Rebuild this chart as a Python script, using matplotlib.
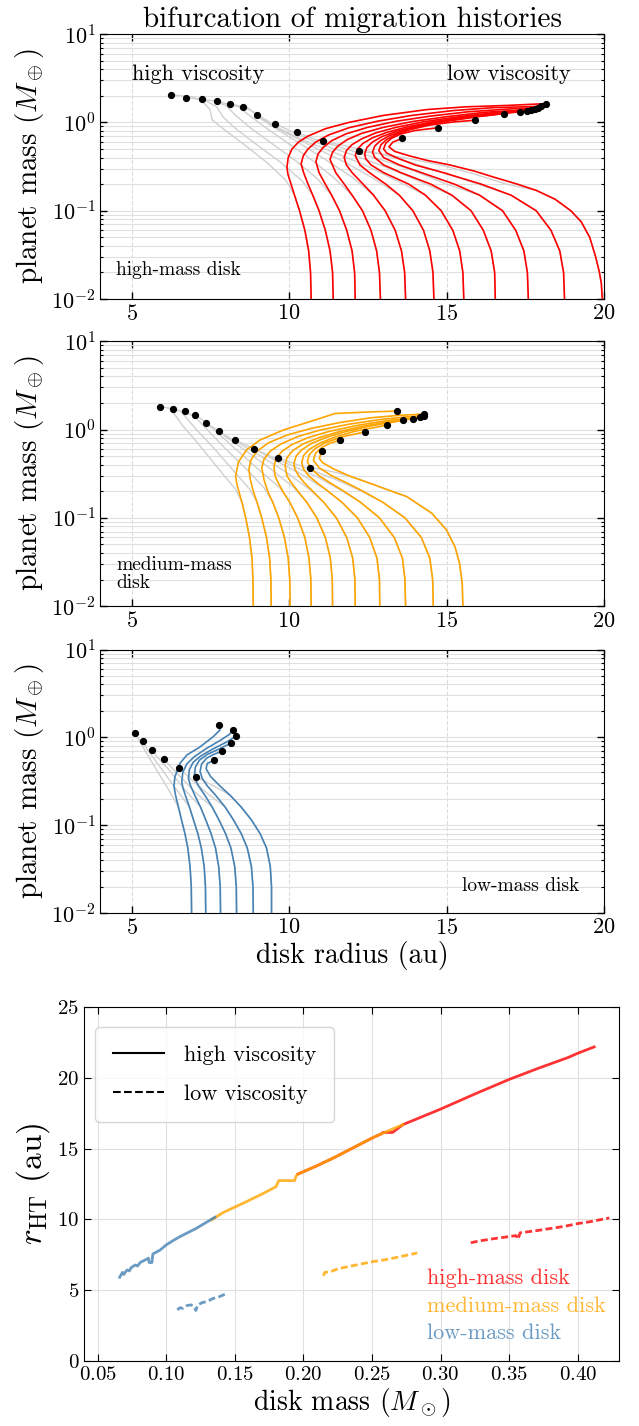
import numpy as np
import matplotlib.pyplot as plt

plt.rcParams['font.family'] = 'serif'
plt.rcParams['font.serif'] = ['cmr10']
plt.rcParams['mathtext.fontset'] = 'cm'
plt.rcParams['axes.formatter.use_mathtext'] = True
plt.rcParams['axes.unicode_minus'] = False

# ---- migration tracks: (disk radius [au], planet mass [M_earth]) ----
# low-viscosity tracks (coloured), innermost start first
high_tracks = [
    [(10.7,0.01),(10.68,0.02),(10.62,0.035),(10.5,0.06),(10.33,0.1),(10.17,0.15),(10.06,0.2),(9.96,0.26),(9.93,0.31),(9.97,0.4),(10.09,0.5),(10.3,0.6),(10.6,0.7),(11.16,0.85),(11.9,1.0),(13.0,1.2),(14.4,1.4),(15.6,1.5),(17.0,1.56),(18.15,1.63)],
    [(11.4,0.01),(11.38,0.02),(11.3,0.035),(11.15,0.06),(10.95,0.1),(10.75,0.15),(10.6,0.2),(10.46,0.27),(10.38,0.34),(10.45,0.42),(10.6,0.5),(10.85,0.6),(11.25,0.72),(11.9,0.87),(12.8,1.03),(13.9,1.2),(15.2,1.36),(16.5,1.47),(18.0,1.52)],
    [(12.1,0.01),(12.08,0.02),(12.0,0.035),(11.83,0.06),(11.6,0.1),(11.35,0.15),(11.15,0.2),(10.95,0.27),(10.85,0.36),(10.92,0.44),(11.08,0.52),(11.35,0.62),(11.8,0.74),(12.5,0.88),(13.4,1.03),(14.5,1.18),(15.7,1.32),(17.0,1.42),(17.9,1.47)],
    [(12.9,0.01),(12.87,0.02),(12.78,0.035),(12.6,0.06),(12.33,0.1),(12.0,0.15),(11.75,0.2),(11.48,0.27),(11.3,0.38),(11.38,0.46),(11.55,0.54),(11.85,0.64),(12.3,0.75),(13.0,0.88),(13.9,1.02),(15.0,1.16),(16.2,1.3),(17.8,1.41)],
    [(13.7,0.01),(13.67,0.02),(13.57,0.035),(13.37,0.06),(13.05,0.1),(12.68,0.15),(12.35,0.2),(12.0,0.27),(11.82,0.33),(11.75,0.4),(11.82,0.48),(12.0,0.56),(12.3,0.65),(12.75,0.76),(13.4,0.88),(14.3,1.02),(15.4,1.16),(16.6,1.3),(17.7,1.37)],
    [(14.6,0.01),(14.57,0.02),(14.47,0.035),(14.27,0.06),(13.93,0.1),(13.5,0.15),(13.07,0.2),(12.55,0.27),(12.25,0.33),(12.1,0.42),(12.17,0.5),(12.35,0.58),(12.65,0.67),(13.1,0.77),(13.75,0.89),(14.6,1.02),(15.6,1.15),(16.7,1.28),(17.57,1.35)],
    [(15.55,0.01),(15.52,0.02),(15.42,0.035),(15.2,0.06),(14.83,0.1),(14.33,0.15),(13.8,0.2),(13.0,0.27),(12.6,0.33),(12.43,0.39),(12.4,0.44),(12.47,0.52),(12.65,0.6),(12.95,0.69),(13.4,0.79),(14.0,0.9),(14.8,1.02),(15.8,1.15),(17.33,1.32)],
    [(16.55,0.01),(16.53,0.02),(16.42,0.035),(16.17,0.06),(15.78,0.1),(15.17,0.15),(14.5,0.2),(13.55,0.27),(13.0,0.33),(12.72,0.4),(12.65,0.46),(12.72,0.54),(12.9,0.62),(13.2,0.71),(13.65,0.81),(14.25,0.92),(15.0,1.03),(16.0,1.16),(16.83,1.26)],
    [(17.6,0.01),(17.57,0.02),(17.46,0.035),(17.2,0.06),(16.78,0.1),(16.05,0.15),(15.25,0.2),(14.2,0.27),(13.5,0.33),(13.0,0.4),(12.85,0.48),(12.92,0.56),(13.1,0.64),(13.4,0.73),(13.85,0.83),(14.45,0.93),(15.2,1.01),(15.92,1.06)],
    [(18.75,0.01),(18.72,0.02),(18.6,0.035),(18.32,0.06),(17.85,0.1),(17.05,0.15),(16.1,0.2),(14.9,0.27),(14.0,0.33),(13.4,0.4),(13.1,0.45),(13.0,0.5),(13.07,0.58),(13.25,0.66),(13.55,0.74),(14.0,0.81),(14.74,0.87)],
    [(19.95,0.01),(19.92,0.015),(19.86,0.02),(19.74,0.03),(19.55,0.05),(19.28,0.075),(18.95,0.1),(18.45,0.135),(17.85,0.17),(17.25,0.2),(16.5,0.24),(15.9,0.28),(15.1,0.33),(14.4,0.37),(13.8,0.42),(13.35,0.47),(13.17,0.53),(13.3,0.6),(13.6,0.66)],
]
# high-viscosity branches (grey), starting where they leave the coloured track
high_gray = [
    [(10.17,0.15),(9.9,0.22),(9.3,0.35),(8.6,0.55),(7.9,0.85),(7.55,1.07),(7.49,1.39),(7.2,1.8),(6.9,1.95),(6.23,2.06)],
    [(10.75,0.15),(10.4,0.22),(9.7,0.36),(9.0,0.55),(8.3,0.85),(7.9,1.15),(7.7,1.5),(7.3,1.8),(6.72,1.91)],
    [(11.35,0.15),(10.9,0.23),(10.2,0.37),(9.5,0.56),(8.8,0.85),(8.3,1.2),(8.0,1.55),(7.6,1.75),(7.23,1.83)],
    [(12.0,0.15),(11.4,0.24),(10.7,0.38),(10.0,0.57),(9.3,0.85),(8.8,1.15),(8.4,1.5),(7.72,1.73)],
    [(12.68,0.15),(12.0,0.24),(11.2,0.37),(10.4,0.56),(9.7,0.8),(9.1,1.1),(8.7,1.45),(8.13,1.63)],
    [(13.5,0.15),(12.7,0.23),(11.8,0.35),(10.9,0.5),(10.1,0.7),(9.4,0.95),(8.9,1.3),(8.54,1.49)],
    [(14.33,0.15),(13.4,0.22),(12.4,0.33),(11.4,0.46),(10.5,0.62),(9.7,0.85),(9.3,1.05),(8.99,1.21)],
    [(15.17,0.15),(14.2,0.21),(13.2,0.3),(12.1,0.42),(11.1,0.55),(10.2,0.75),(9.55,0.97)],
    [(16.05,0.15),(15.0,0.2),(14.0,0.28),(12.9,0.38),(11.8,0.5),(10.9,0.63),(10.24,0.77)],
    [(17.05,0.15),(16.0,0.2),(15.0,0.26),(13.9,0.35),(12.8,0.45),(11.8,0.54),(11.09,0.61)],
    [(17.85,0.17),(16.9,0.2),(15.9,0.26),(14.8,0.33),(13.8,0.39),(12.9,0.44),(12.21,0.47)],
]

med_tracks = [
    [(8.86,0.01),(8.85,0.02),(8.82,0.035),(8.74,0.06),(8.62,0.1),(8.5,0.15),(8.4,0.2),(8.33,0.25),(8.3,0.3),(8.39,0.43),(8.65,0.59),(9.07,0.76),(9.82,0.99),(10.66,1.23),(11.46,1.52),(12.5,1.58),(13.42,1.62)],
    [(9.43,0.01),(9.42,0.02),(9.38,0.035),(9.28,0.06),(9.13,0.1),(8.98,0.15),(8.86,0.2),(8.77,0.27),(8.72,0.35),(8.78,0.45),(8.98,0.57),(9.35,0.71),(9.95,0.87),(10.7,1.03),(11.6,1.2),(12.6,1.36),(13.5,1.45),(14.3,1.5)],
    [(10.03,0.01),(10.02,0.02),(9.97,0.035),(9.85,0.06),(9.67,0.1),(9.48,0.15),(9.32,0.2),(9.2,0.27),(9.13,0.37),(9.2,0.46),(9.4,0.57),(9.75,0.69),(10.3,0.84),(11.0,0.99),(11.9,1.15),(12.9,1.3),(13.7,1.39),(14.27,1.44)],
    [(10.7,0.01),(10.69,0.02),(10.63,0.035),(10.5,0.06),(10.27,0.1),(10.02,0.15),(9.8,0.2),(9.65,0.25),(9.55,0.3),(9.52,0.38),(9.58,0.47),(9.78,0.57),(10.1,0.68),(10.6,0.81),(11.3,0.96),(12.2,1.12),(13.1,1.26),(14.15,1.38)],
    [(11.38,0.01),(11.37,0.02),(11.31,0.035),(11.15,0.06),(10.88,0.1),(10.56,0.15),(10.28,0.2),(10.07,0.25),(9.93,0.3),(9.87,0.39),(9.93,0.48),(10.12,0.58),(10.45,0.69),(10.95,0.81),(11.6,0.95),(12.4,1.1),(13.2,1.23),(13.95,1.33)],
    [(12.1,0.01),(12.09,0.02),(12.02,0.035),(11.83,0.06),(11.5,0.1),(11.1,0.15),(10.75,0.2),(10.48,0.25),(10.3,0.3),(10.18,0.36),(10.15,0.41),(10.22,0.5),(10.4,0.59),(10.72,0.7),(11.2,0.82),(11.85,0.96),(12.6,1.1),(13.62,1.27)],
    [(12.88,0.01),(12.87,0.02),(12.79,0.035),(12.56,0.06),(12.17,0.1),(11.68,0.15),(11.24,0.2),(10.88,0.25),(10.62,0.3),(10.45,0.36),(10.4,0.42),(10.46,0.51),(10.65,0.6),(10.97,0.7),(11.45,0.82),(12.1,0.96),(13.1,1.12)],
    [(13.7,0.01),(13.68,0.02),(13.6,0.035),(13.34,0.06),(12.87,0.1),(12.27,0.15),(11.74,0.2),(11.3,0.25),(10.95,0.3),(10.7,0.36),(10.58,0.43),(10.64,0.52),(10.83,0.61),(11.15,0.71),(11.7,0.83),(12.4,0.94)],
    [(14.58,0.01),(14.56,0.02),(14.47,0.035),(14.2,0.06),(13.68,0.1),(12.98,0.15),(12.35,0.2),(11.82,0.25),(11.35,0.3),(10.95,0.37),(10.77,0.45),(10.84,0.54),(11.05,0.63),(11.3,0.7),(11.62,0.76)],
    [(15.52,0.01),(15.5,0.018),(15.42,0.03),(15.27,0.047),(15.0,0.073),(14.53,0.113),(13.74,0.174),(13.1,0.21),(12.57,0.246),(11.9,0.3),(11.4,0.36),(11.07,0.42),(10.96,0.47),(11.03,0.57)],
]
med_gray = [
    [(8.5,0.15),(8.3,0.21),(7.7,0.38),(7.1,0.7),(6.64,1.08),(6.35,1.5),(6.2,1.74),(5.91,1.82)],
    [(8.98,0.15),(8.75,0.21),(8.15,0.37),(7.55,0.65),(7.05,1.0),(6.7,1.4),(6.55,1.62),(6.31,1.71)],
    [(9.48,0.15),(9.2,0.22),(8.6,0.37),(7.95,0.62),(7.45,0.95),(7.05,1.35),(6.68,1.61)],
    [(10.02,0.15),(9.7,0.22),(9.0,0.36),(8.35,0.58),(7.75,0.9),(7.3,1.25),(7.0,1.47)],
    [(10.56,0.15),(10.15,0.22),(9.45,0.35),(8.7,0.55),(8.0,0.82),(7.6,1.05),(7.35,1.19)],
    [(11.1,0.15),(10.65,0.21),(9.9,0.33),(9.1,0.5),(8.4,0.7),(7.76,0.96)],
    [(11.68,0.15),(11.15,0.21),(10.4,0.31),(9.6,0.44),(8.9,0.6),(8.27,0.77)],
    [(12.27,0.15),(11.7,0.2),(10.9,0.29),(10.1,0.39),(9.4,0.5),(8.88,0.61)],
    [(12.98,0.15),(12.3,0.2),(11.5,0.27),(10.7,0.35),(10.1,0.42),(9.64,0.48)],
    [(13.1,0.21),(12.4,0.26),(11.6,0.32),(11.1,0.35),(10.66,0.37)],
]

low_tracks = [
    [(6.9,0.01),(6.89,0.02),(6.85,0.034),(6.78,0.055),(6.69,0.08),(6.58,0.115),(6.48,0.162),(6.39,0.22),(6.34,0.28),(6.37,0.356),(6.53,0.506),(6.75,0.63),(7.17,0.78),(7.59,1.02),(7.8,1.21),(7.77,1.38)],
    [(7.35,0.01),(7.34,0.02),(7.3,0.034),(7.21,0.055),(7.1,0.08),(6.96,0.115),(6.83,0.162),(6.7,0.22),(6.62,0.27),(6.59,0.31),(6.62,0.4),(6.75,0.5),(6.98,0.6),(7.35,0.74),(7.8,0.92),(8.1,1.08),(8.23,1.22)],
    [(7.82,0.01),(7.81,0.02),(7.76,0.034),(7.66,0.055),(7.52,0.08),(7.35,0.115),(7.18,0.162),(7.0,0.22),(6.87,0.28),(6.8,0.34),(6.83,0.43),(6.95,0.52),(7.18,0.61),(7.55,0.73),(8.0,0.88),(8.31,1.03)],
    [(8.33,0.01),(8.32,0.02),(8.27,0.034),(8.15,0.055),(7.98,0.08),(7.77,0.115),(7.55,0.162),(7.32,0.22),(7.12,0.28),(7.02,0.33),(6.99,0.37),(7.02,0.46),(7.15,0.55),(7.4,0.64),(7.78,0.74),(8.15,0.86)],
    [(8.86,0.01),(8.85,0.02),(8.8,0.034),(8.67,0.055),(8.48,0.08),(8.23,0.115),(7.96,0.162),(7.66,0.22),(7.4,0.28),(7.24,0.34),(7.17,0.41),(7.22,0.5),(7.38,0.58),(7.6,0.64),(7.88,0.70)],
    [(9.44,0.01),(9.44,0.02),(9.4,0.034),(9.28,0.055),(9.08,0.08),(8.8,0.115),(8.47,0.162),(8.12,0.22),(7.8,0.28),(7.5,0.36),(7.36,0.44),(7.4,0.506),(7.62,0.55)],
]
low_gray = [
    [(6.48,0.162),(6.1,0.28),(5.6,0.55),(5.25,0.9),(5.11,1.12)],
    [(6.83,0.162),(6.4,0.26),(5.9,0.46),(5.5,0.72),(5.35,0.9)],
    [(7.18,0.162),(6.7,0.25),(6.2,0.42),(5.8,0.6),(5.65,0.72)],
    [(7.55,0.162),(7.0,0.24),(6.5,0.37),(6.2,0.48),(6.03,0.57)],
    [(7.96,0.162),(7.4,0.23),(6.9,0.33),(6.49,0.45)],
    [(8.12,0.22),(7.6,0.28),(7.05,0.355)],
]

# ---- r_HT vs disk mass ----
hv_low_x = [0.066,0.068,0.069,0.0713,0.073,0.0745,0.0774,0.079,0.081,0.0846,0.087,0.0875,0.0895,0.0902,0.0955,0.0999,0.105,0.11,0.122,0.1354]
hv_low_y = [5.9,6.25,6.1,6.42,6.35,6.6,6.77,6.7,6.95,7.13,7.25,6.95,6.94,7.55,7.83,8.19,8.5,8.78,9.37,10.15]
hv_med_x = [0.133,0.1414,0.1584,0.170,0.180,0.182,0.1935,0.1947,0.196,0.21,0.222,0.235,0.25,0.2568,0.2725]
hv_med_y = [9.96,10.48,11.25,11.8,12.31,12.74,12.74,13.07,13.2,13.8,14.35,15.0,15.75,16.05,16.7]
hv_high_x = [0.196,0.21,0.222,0.235,0.25,0.2568,0.258,0.265,0.2725,0.30,0.3257,0.35,0.3716,0.393,0.40,0.412]
hv_high_y = [13.2,13.8,14.35,15.0,15.75,16.05,16.15,16.15,16.7,17.8,18.9,19.9,20.7,21.45,21.75,22.2]
lv_low_x = [0.108,0.11,0.112,0.115,0.118,0.12,0.1215,0.123,0.126,0.13,0.134,0.138,0.1427]
lv_low_y = [3.6,3.75,3.7,3.9,3.95,3.85,3.55,3.95,4.1,4.2,4.4,4.5,4.7]
lv_med_x = [0.2146,0.2155,0.22,0.225,0.23,0.24,0.25,0.26,0.27,0.283]
lv_med_y = [6.0,6.25,6.3,6.5,6.6,6.8,7.0,7.15,7.35,7.62]
lv_high_x = [0.322,0.33,0.34,0.35,0.355,0.3565,0.358,0.37,0.38,0.39,0.40,0.41,0.423]
lv_high_y = [8.35,8.5,8.65,8.78,8.85,8.6,9.05,9.2,9.35,9.5,9.7,9.85,10.1]

disk_names = ['high-mass disk', 'medium-mass disk', 'low-mass disk']
disk_colors = ['red', 'orange', 'steelblue']


def draw_tracks(ax, tracks, branches, color):
    for trk, br in zip(tracks, branches):
        k = next(i for i, p in enumerate(trk) if p[1] >= br[0][1])
        gray = trk[:k] + br
        ax.plot([p[0] for p in gray], [p[1] for p in gray], color='#d0d0d0', lw=1.0, zorder=2)
    for trk in tracks:
        ax.plot([p[0] for p in trk], [p[1] for p in trk], color=color, lw=1.2, zorder=3)
    ends = [trk[-1] for trk in tracks] + [br[-1] for br in branches]
    ax.plot([p[0] for p in ends], [p[1] for p in ends], 'o', color='k', ms=4.2, zorder=5)


def style(ax):
    ax.set_yscale('log')
    ax.set_xlim(4, 20)
    ax.set_ylim(0.01, 10)
    ax.set_xticks([5, 10, 15, 20])
    ax.tick_params(which='both', direction='in', top=True, right=True, labelsize=16)
    ax.tick_params(which='major', length=5, width=1)
    ax.tick_params(which='minor', length=2.5, width=0.8)
    ax.grid(which='both', axis='y', color='0.88', lw=0.8)
    ax.grid(which='major', axis='x', color='0.86', lw=0.8, ls='--')
    ax.set_axisbelow(True)
    ax.set_ylabel(r'planet mass ($M_\oplus$)', fontsize=21, labelpad=4)


fig = plt.figure(figsize=(6.39, 14.26), dpi=100)
ax1 = fig.add_axes([0.157, 0.7903, 0.788, 0.1858])
ax2 = fig.add_axes([0.157, 0.5749, 0.788, 0.1858])
ax3 = fig.add_axes([0.157, 0.3597, 0.788, 0.1848])
ax4 = fig.add_axes([0.1315, 0.0458, 0.837, 0.2478])

for ax, tr, br, c in zip([ax1, ax2, ax3], [high_tracks, med_tracks, low_tracks],
                         [high_gray, med_gray, low_gray], disk_colors):
    style(ax)
    draw_tracks(ax, tr, br, c)

ax1.set_title('bifurcation of migration histories', fontsize=21, pad=5)
ax1.text(5.0, 3.0, 'high viscosity', fontsize=16, va='baseline')
ax1.text(15.0, 3.0, 'low viscosity', fontsize=16, va='baseline')
ax1.text(4.5, 0.0185, 'high-mass disk', fontsize=14, va='baseline')
ax2.text(4.5, 0.016, 'medium-mass\ndisk', fontsize=14, va='baseline', linespacing=1.0)
ax3.text(15.5, 0.018, 'low-mass disk', fontsize=14, va='baseline')
ax3.set_xlabel('disk radius (au)', fontsize=20, labelpad=2)

# bottom: r_HT vs disk mass
dash = (2.5, 1.2)
ax4.plot(hv_high_x, hv_high_y, color='red', alpha=0.8, lw=2)
ax4.plot(hv_med_x, hv_med_y, color='orange', alpha=0.8, lw=2)
ax4.plot(hv_low_x, hv_low_y, color='steelblue', alpha=0.8, lw=2)
ax4.plot(lv_high_x, lv_high_y, color='red', alpha=0.8, lw=2, ls=(0, dash))
ax4.plot(lv_med_x, lv_med_y, color='orange', alpha=0.8, lw=2, ls=(0, dash))
ax4.plot(lv_low_x, lv_low_y, color='steelblue', alpha=0.8, lw=2, ls=(0, dash))
ax4.plot([], [], color='k', lw=1.5, label='high viscosity')
ax4.plot([], [], color='k', lw=1.5, ls='--', label='low viscosity')
ax4.legend(loc='upper left', bbox_to_anchor=(0.0, 0.975), fontsize=16,
           handlelength=2.3, handletextpad=0.9, borderpad=0.8,
           labelspacing=0.9, edgecolor='0.8')
for name, c, yy in zip(disk_names, disk_colors, [5.45, 3.45, 1.5]):
    ax4.text(0.29, yy, name, color=c, alpha=0.8, fontsize=16, va='baseline')

ax4.set_xlim(0.04, 0.43)
ax4.set_ylim(0, 25)
ax4.set_xticks([0.05, 0.10, 0.15, 0.20, 0.25, 0.30, 0.35, 0.40])
ax4.set_yticks([0, 5, 10, 15, 20, 25])
ax4.tick_params(direction='in', top=True, right=True, labelsize=15, length=5)
ax4.grid(color='0.88', lw=0.8)
ax4.set_axisbelow(True)
ax4.set_xlabel(r'disk mass ($M_\odot$)', fontsize=20, labelpad=2)
ax4.set_ylabel(r'$r_{\rm HT}$ (au)', fontsize=24, labelpad=4)

fig.savefig('out.png', dpi=100)
